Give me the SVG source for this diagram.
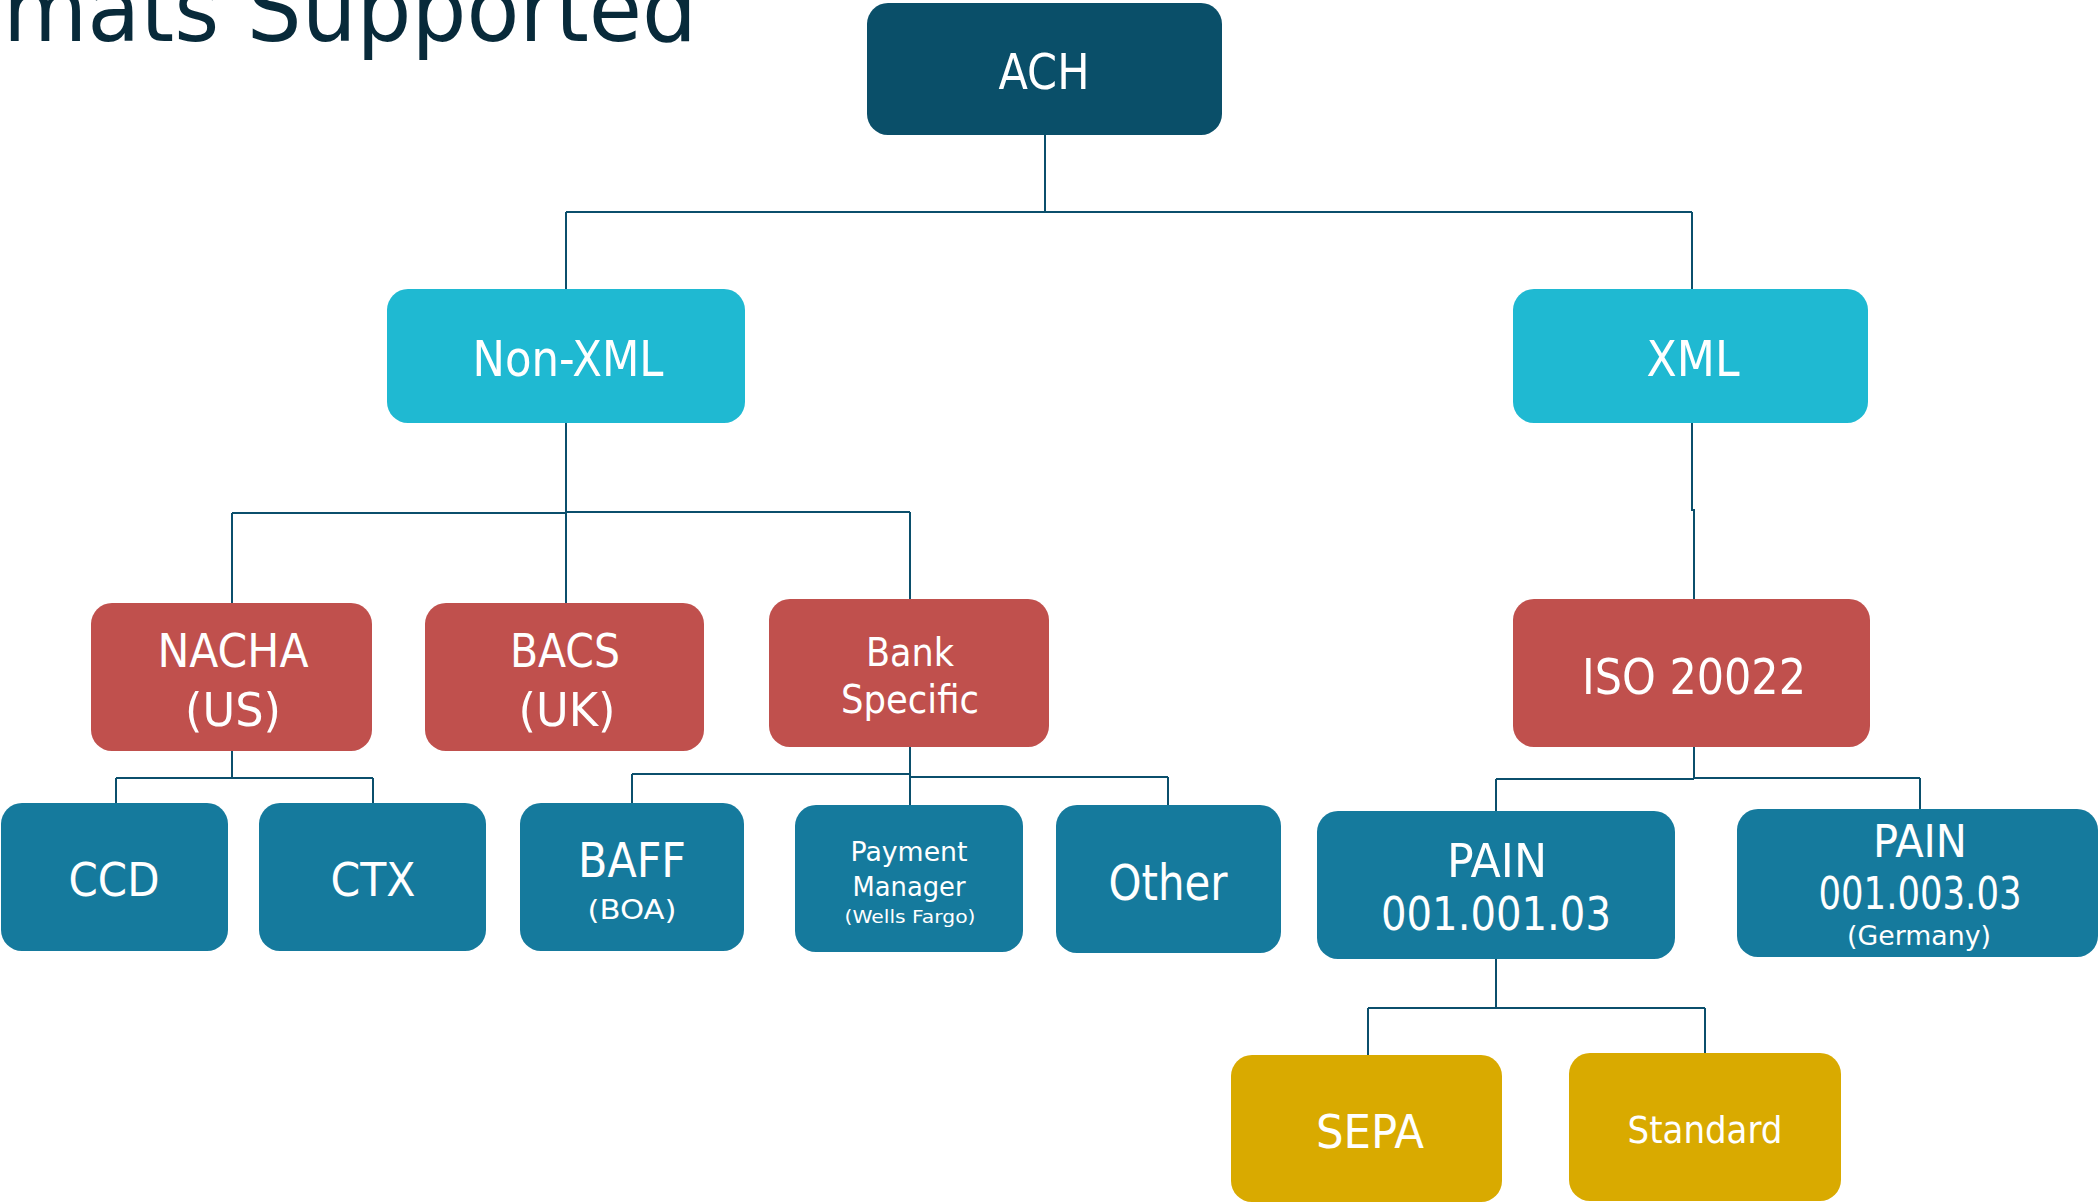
<svg xmlns="http://www.w3.org/2000/svg" width="2100" height="1202" viewBox="0 0 2100 1202">
<style>
  .bg{fill:#ffffff}
  .c{fill:none;stroke:#0B4F6C;stroke-width:2}
  .root{fill:#0A4F69}
  .cyan{fill:#1FB9D2}
  .red{fill:#C0504D}
  .blue{fill:#157A9D}
  .gold{fill:#D9AA00}
  text{fill:#ffffff;text-anchor:middle;font-family:"DejaVu Sans Condensed","DejaVu Sans","Liberation Sans",sans-serif}
  .sm{font-family:"DejaVu Sans","Liberation Sans",sans-serif}
  .title{fill:#082A3A;text-anchor:start}
</style>
<rect class="bg" x="0" y="0" width="2100" height="1202"/>
<text class="title" x="3" y="41" font-size="90" textLength="694" lengthAdjust="spacingAndGlyphs">mats Supported</text>

<g id="connectors">
  <path class="c" d="M1045,135 V212 M566,212 H1692 M566,212 V289 M1692,212 V289"/>
  <path class="c" d="M566,423 V513 M232,513 H566 M566,512 H910 M232,513 V603 M566,512 V603 M910,512 V599"/>
  <path class="c" d="M1692,423 V510 H1694 V599"/>
  <path class="c" d="M232,751 V778 M116,778 H373 M116,778 V803 M373,778 V803"/>
  <path class="c" d="M910,747 V805 M632,774 H910 M910,777 H1168 M632,774 V803 M1168,777 V805"/>
  <path class="c" d="M1694,747 V779 M1496,779 H1694 M1694,778 H1920 M1496,779 V811 M1920,778 V809"/>
  <path class="c" d="M1496,959 V1008 M1368,1008 H1705 M1368,1008 V1055 M1705,1008 V1053"/>
</g>

<g id="ach"><rect class="root" x="867" y="3" width="355" height="132" rx="21"/><text x="1044" y="89" font-size="49" textLength="91" lengthAdjust="spacingAndGlyphs">ACH</text></g>
<g id="nonxml"><rect class="cyan" x="387" y="289" width="358" height="134" rx="21"/><text x="568" y="376" font-size="49" textLength="191" lengthAdjust="spacingAndGlyphs">Non-XML</text></g>
<g id="xml"><rect class="cyan" x="1513" y="289" width="355" height="134" rx="21"/><text x="1693" y="376" font-size="49" textLength="93" lengthAdjust="spacingAndGlyphs">XML</text></g>

<g id="nacha"><rect class="red" x="91" y="603" width="281" height="148" rx="21"/><text x="233" y="667" font-size="47" textLength="151" lengthAdjust="spacingAndGlyphs">NACHA</text><text x="233" y="726" font-size="47" textLength="96" lengthAdjust="spacingAndGlyphs">(US)</text></g>
<g id="bacs"><rect class="red" x="425" y="603" width="279" height="148" rx="21"/><text x="565" y="667" font-size="47" textLength="110" lengthAdjust="spacingAndGlyphs">BACS</text><text x="567" y="726" font-size="47" textLength="97" lengthAdjust="spacingAndGlyphs">(UK)</text></g>
<g id="bank"><rect class="red" x="769" y="599" width="280" height="148" rx="21"/><text x="910" y="666" font-size="39" textLength="88" lengthAdjust="spacingAndGlyphs">Bank</text><text x="910" y="713" font-size="39" textLength="138" lengthAdjust="spacingAndGlyphs">Specific</text></g>
<g id="iso"><rect class="red" x="1513" y="599" width="357" height="148" rx="21"/><text x="1694" y="694" font-size="49" textLength="224" lengthAdjust="spacingAndGlyphs">ISO 20022</text></g>

<g id="ccd"><rect class="blue" x="1" y="803" width="227" height="148" rx="21"/><text x="114" y="896" font-size="47" textLength="91" lengthAdjust="spacingAndGlyphs">CCD</text></g>
<g id="ctx"><rect class="blue" x="259" y="803" width="227" height="148" rx="21"/><text x="373" y="896" font-size="47" textLength="85" lengthAdjust="spacingAndGlyphs">CTX</text></g>
<g id="baff"><rect class="blue" x="520" y="803" width="224" height="148" rx="21"/><text x="632" y="877" font-size="48" textLength="108" lengthAdjust="spacingAndGlyphs">BAFF</text><text class="sm" x="632" y="919" font-size="27" textLength="89" lengthAdjust="spacingAndGlyphs">(BOA)</text></g>
<g id="payment"><rect class="blue" x="795" y="805" width="228" height="147" rx="21"/><text class="sm" x="909" y="861" font-size="26" textLength="117" lengthAdjust="spacingAndGlyphs">Payment</text><text class="sm" x="909" y="896" font-size="26" textLength="113" lengthAdjust="spacingAndGlyphs">Manager</text><text class="sm" x="910" y="923" font-size="18" textLength="131" lengthAdjust="spacingAndGlyphs">(Wells Fargo)</text></g>
<g id="other"><rect class="blue" x="1056" y="805" width="225" height="148" rx="21"/><text x="1168" y="900" font-size="49" textLength="119" lengthAdjust="spacingAndGlyphs">Other</text></g>
<g id="pain1"><rect class="blue" x="1317" y="811" width="358" height="148" rx="21"/><text x="1497" y="877" font-size="47" textLength="100" lengthAdjust="spacingAndGlyphs">PAIN</text><text x="1496" y="930" font-size="47" textLength="230" lengthAdjust="spacingAndGlyphs">001.001.03</text></g>
<g id="pain2"><rect class="blue" x="1737" y="809" width="361" height="148" rx="21"/><text x="1920" y="857" font-size="44" textLength="94" lengthAdjust="spacingAndGlyphs">PAIN</text><text x="1920" y="909" font-size="44" textLength="203" lengthAdjust="spacingAndGlyphs">001.003.03</text><text class="sm" x="1919" y="945" font-size="27" textLength="144" lengthAdjust="spacingAndGlyphs">(Germany)</text></g>

<g id="sepa"><rect class="gold" x="1231" y="1055" width="271" height="147" rx="21"/><text x="1370" y="1148" font-size="47" textLength="108" lengthAdjust="spacingAndGlyphs">SEPA</text></g>
<g id="standard"><rect class="gold" x="1569" y="1053" width="272" height="148" rx="21"/><text x="1705" y="1143" font-size="38" textLength="155" lengthAdjust="spacingAndGlyphs">Standard</text></g>
</svg>
